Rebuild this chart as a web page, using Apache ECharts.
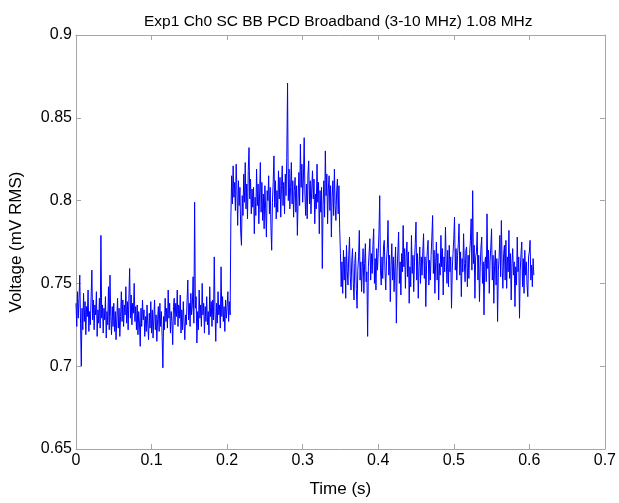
<!DOCTYPE html>
<html>
<head>
<meta charset="utf-8">
<title>Exp1 Ch0 SC BB PCD Broadband</title>
<script src="https://cdn.jsdelivr.net/npm/echarts@6/dist/echarts.min.js"></script>
<style>
  html, body { margin: 0; padding: 0; background: #fff; }
  #chart { width: 619px; height: 503px; }
</style>
</head>
<body>
<div id="chart"></div>
<script>
// Sampling interval of the recorded RMS trace (seconds)
const sampleStep = 0.001;

// Axis ticks
const timeTicks = [0, 0.1, 0.2, 0.3, 0.4, 0.5, 0.6, 0.7];
const voltageTicks = [0.65, 0.7, 0.75, 0.8, 0.85, 0.9];

// RMS voltage (mV), before exposure: 0 – 0.204 s
const voltageBaseline = [
  0.738,0.724,0.745,0.729,0.741,0.755,0.726,0.700,0.735,0.722,
  0.744,0.727,0.739,0.719,0.736,0.730,0.746,0.721,0.733,0.725,
  0.742,0.758,0.728,0.740,0.722,0.737,0.731,0.745,0.718,0.734,
  0.726,0.741,0.723,0.779,0.729,0.737,0.720,0.735,0.728,0.742,
  0.717,0.733,0.725,0.748,0.722,0.755,0.730,0.719,0.736,0.724,
  0.738,0.721,0.733,0.716,0.729,0.741,0.723,0.735,0.718,0.730,
  0.745,0.727,0.740,0.724,0.737,0.731,0.748,0.726,0.739,0.722,
  0.741,0.759,0.729,0.743,0.725,0.738,0.732,0.750,0.727,0.736,
  0.722,0.737,0.719,0.733,0.726,0.712,0.735,0.724,0.740,0.728,
  0.734,0.718,0.730,0.721,0.737,0.725,0.716,0.732,0.723,0.739,
  0.720,0.734,0.717,0.729,0.740,0.722,0.731,0.715,0.728,0.736,
  0.721,0.738,0.724,0.733,0.718,0.699,0.730,0.722,0.741,0.727,
  0.735,0.723,0.746,0.729,0.738,0.720,0.733,0.727,0.713,0.736,
  0.741,0.725,0.738,0.730,0.746,0.724,0.737,0.729,0.743,0.720,
  0.734,0.722,0.739,0.727,0.716,0.731,0.725,0.740,0.752,0.728,
  0.738,0.724,0.744,0.731,0.737,0.754,0.726,0.799,0.735,0.742,
  0.714,0.733,0.722,0.746,0.729,0.737,0.724,0.750,0.731,0.738,
  0.720,0.736,0.727,0.742,0.725,0.733,0.719,0.748,0.730,0.739,
  0.724,0.740,0.728,0.766,0.733,0.715,0.738,0.726,0.745,0.731,
  0.737,0.723,0.760,0.730,0.742,0.727,0.736,0.721,0.740,0.729,
  0.736,0.745,0.727,0.739,0.731
];

// RMS voltage (mV), during exposure: 0.205 – 0.349 s
const voltageExposure = [
  0.790,0.815,0.798,0.821,0.802,0.811,0.794,0.822,0.806,0.785,
  0.812,0.797,0.808,0.781,0.773,0.803,0.791,0.816,0.799,0.823,
  0.795,0.810,0.789,0.818,0.832,0.801,0.813,0.792,0.807,0.796,
  0.808,0.780,0.802,0.791,0.819,0.797,0.810,0.786,0.804,0.823,
  0.793,0.811,0.788,0.804,0.783,0.809,0.795,0.778,0.806,0.800,
  0.815,0.792,0.808,0.784,0.770,0.799,0.811,0.827,0.796,0.812,
  0.789,0.806,0.793,0.818,0.801,0.814,0.790,0.809,0.821,0.797,
  0.811,0.792,0.816,0.803,0.826,0.871,0.800,0.819,0.795,0.808,
  0.823,0.798,0.812,0.790,0.806,0.814,0.793,0.809,0.779,0.801,
  0.817,0.797,0.834,0.808,0.822,0.799,0.813,0.838,0.804,0.791,
  0.810,0.789,0.816,0.824,0.798,0.812,0.792,0.807,0.818,0.801,
  0.813,0.786,0.804,0.795,0.822,0.799,0.811,0.780,0.806,0.793,
  0.808,0.759,0.797,0.812,0.790,0.830,0.803,0.816,0.786,0.807,
  0.815,0.794,0.809,0.778,0.802,0.812,0.791,0.819,0.797,0.788,
  0.806,0.813,0.792,0.809,0.783
];

// RMS voltage (mV), after exposure: 0.350 – 0.606 s
const voltageRecovery = [
  0.768,0.748,0.763,0.744,0.770,0.752,0.766,0.741,0.773,0.757,
  0.749,0.767,0.778,0.754,0.746,0.764,0.771,0.750,0.740,0.762,
  0.769,0.747,0.735,0.758,0.766,0.782,0.752,0.763,0.745,0.760,
  0.771,0.744,0.762,0.774,0.751,0.757,0.718,0.760,0.769,0.777,
  0.752,0.768,0.756,0.773,0.783,0.750,0.765,0.746,0.771,0.758,
  0.768,0.781,0.803,0.758,0.749,0.766,0.753,0.772,0.776,0.757,
  0.746,0.764,0.771,0.788,0.755,0.767,0.739,0.761,0.774,0.752,
  0.766,0.745,0.760,0.772,0.726,0.757,0.769,0.781,0.750,0.763,
  0.743,0.768,0.757,0.785,0.760,0.771,0.747,0.766,0.775,0.754,
  0.769,0.738,0.760,0.748,0.779,0.756,0.767,0.745,0.763,0.774,
  0.787,0.752,0.768,0.741,0.760,0.772,0.750,0.766,0.755,0.769,
  0.780,0.753,0.766,0.736,0.761,0.770,0.776,0.749,0.764,0.752,
  0.767,0.778,0.791,0.756,0.770,0.744,0.763,0.775,0.752,0.768,
  0.740,0.762,0.755,0.779,0.760,0.771,0.743,0.766,0.757,0.784,
  0.764,0.750,0.770,0.748,0.773,0.757,0.766,0.735,0.758,0.768,
  0.777,0.790,0.758,0.771,0.752,0.767,0.774,0.786,0.755,0.769,
  0.742,0.765,0.757,0.780,0.762,0.751,0.770,0.772,0.748,0.767,
  0.753,0.768,0.776,0.789,0.758,0.806,0.762,0.773,0.741,0.766,
  0.769,0.781,0.752,0.767,0.739,0.760,0.772,0.778,0.750,0.763,
  0.731,0.762,0.766,0.751,0.792,0.759,0.770,0.744,0.763,0.772,
  0.783,0.752,0.767,0.738,0.761,0.770,0.749,0.765,0.727,0.758,
  0.766,0.779,0.754,0.788,0.760,0.747,0.768,0.773,0.752,0.776,
  0.747,0.766,0.757,0.782,0.753,0.768,0.740,0.762,0.771,0.755,
  0.763,0.736,0.760,0.749,0.778,0.757,0.766,0.729,0.758,0.768,
  0.775,0.748,0.765,0.744,0.770,0.755,0.763,0.749,0.742,0.766,
  0.769,0.776,0.752,0.761,0.748,0.765,0.755
];

const voltage = voltageBaseline.concat(voltageExposure, voltageRecovery);
const trace = voltage.map((v, i) => [+(i * sampleStep).toFixed(3), v]);

const FONT = '"Liberation Sans", Arial, Helvetica, sans-serif';
const frameColor = '#a6a6a6';

const tStep = +(timeTicks[1] - timeTicks[0]).toFixed(3);
const vStep = +(voltageTicks[1] - voltageTicks[0]).toFixed(3);

function frameAxis(extra) {
  return Object.assign({
    type: 'value',
    splitLine: { show: false },
    axisLine: { show: true, onZero: false, lineStyle: { color: frameColor, width: 1 } },
    axisTick: { show: true, inside: true, length: 5, lineStyle: { color: frameColor, width: 1 } }
  }, extra);
}

const chart = echarts.init(document.getElementById('chart'), null, { renderer: 'canvas' });
chart.setOption({
  animation: false,
  backgroundColor: '#ffffff',
  title: {
    text: 'Exp1 Ch0 SC BB PCD Broadband (3-10 MHz) 1.08 MHz',
    left: 139,
    top: 9,
    textStyle: { fontFamily: FONT, fontSize: 15.5, fontWeight: 'normal', color: '#000' }
  },
  grid: { left: 73, right: 11, top: 35, bottom: 46, containLabel: false },
  xAxis: [
    frameAxis({
      min: timeTicks[0], max: timeTicks[timeTicks.length - 1], interval: tStep,
      position: 'bottom',
      name: 'Time (s)', nameLocation: 'middle', nameGap: 32,
      nameTextStyle: { fontFamily: FONT, fontSize: 17, color: '#000' },
      axisLabel: { fontFamily: FONT, fontSize: 16, color: '#000', margin: 4 }
    }),
    frameAxis({
      min: timeTicks[0], max: timeTicks[timeTicks.length - 1], interval: tStep,
      position: 'top', axisLabel: { show: false }
    })
  ],
  yAxis: [
    frameAxis({
      min: voltageTicks[0], max: voltageTicks[voltageTicks.length - 1], interval: vStep,
      position: 'left',
      name: 'Voltage (mV RMS)', nameLocation: 'middle', nameGap: 51,
      nameTextStyle: { fontFamily: FONT, fontSize: 17, color: '#000' },
      axisLabel: { fontFamily: FONT, fontSize: 16, color: '#000', margin: 4 }
    }),
    frameAxis({
      min: voltageTicks[0], max: voltageTicks[voltageTicks.length - 1], interval: vStep,
      position: 'right', axisLabel: { show: false }
    })
  ],
  series: [{
    type: 'line',
    data: trace,
    xAxisIndex: 0,
    yAxisIndex: 0,
    symbol: 'none',
    sampling: null,
    lineStyle: { color: '#0000ff', width: 1 },
    emphasis: { disabled: true }
  }]
});
</script>
</body>
</html>
